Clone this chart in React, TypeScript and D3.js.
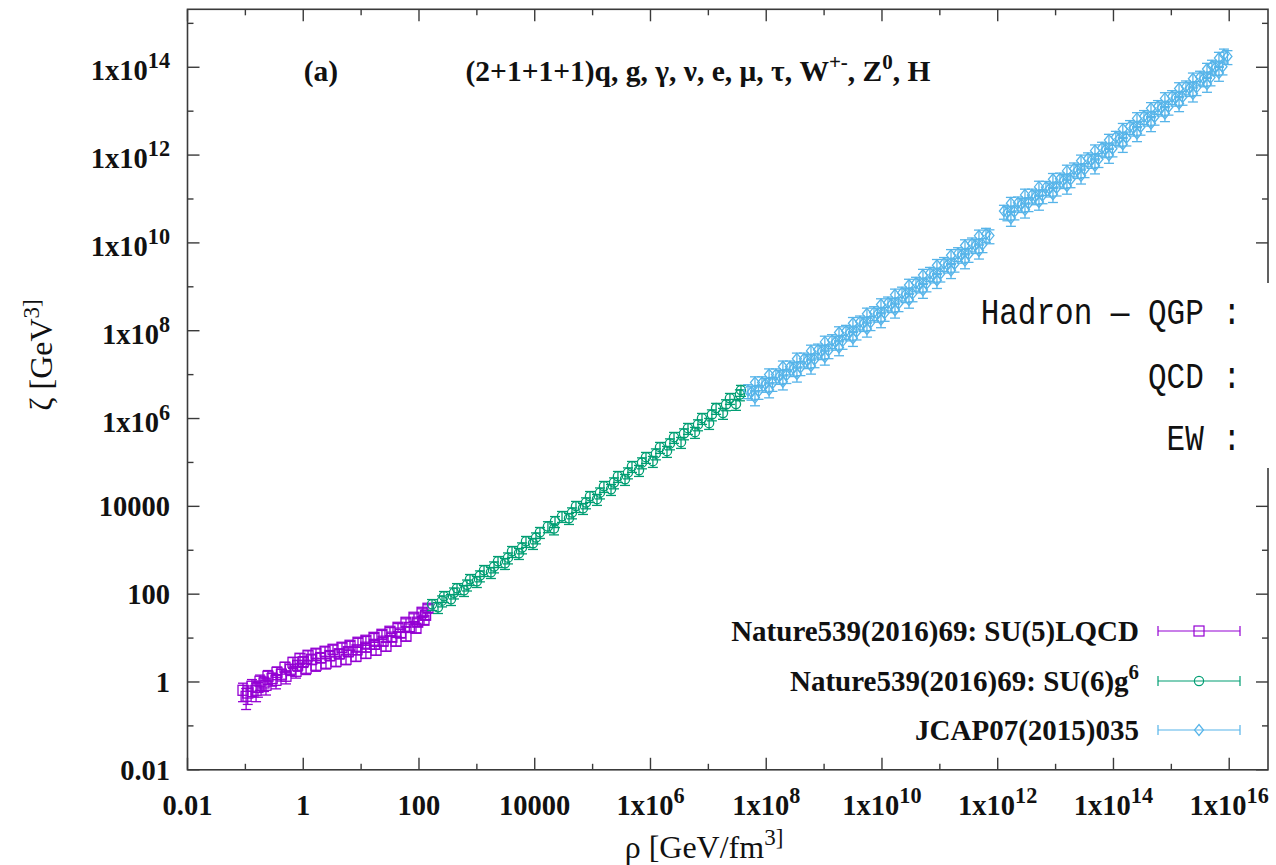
import React from "react";
import * as d3 from "d3";

// ---------------- data ----------------
// [rho (GeV/fm^3), zeta (GeV^3), relative error]
const su5LQCD: [number, number, number][] = [
  [0.091, 0.647, 0.45], [0.130, 0.80, 0.42], [0.179, 1.04, 0.38], [0.246, 1.35, 0.35],
  [0.352, 1.66, 0.32], [0.484, 2.16, 0.3], [0.665, 2.81, 0.28], [0.879, 3.47, 0.27],
  [1.21, 4.06, 0.26], [1.66, 4.51, 0.25], [2.38, 5.01, 0.25], [3.27, 5.56, 0.24],
  [4.67, 6.18, 0.24], [6.43, 6.86, 0.23], [8.83, 8.03, 0.23], [12.1, 8.92, 0.22],
  [16.7, 10.4, 0.22], [22.9, 12.2, 0.22], [31.5, 14.3, 0.21], [43.4, 17.6, 0.21],
  [59.6, 22.9, 0.2], [82.0, 29.8, 0.2], [113, 38.7, 0.2], [143, 47.8, 0.2],
  [0.103, 0.472, 0.5], [0.153, 0.647, 0.45], [0.227, 0.841, 0.4], [0.338, 1.09, 0.36],
  [0.503, 1.35, 0.33], [0.750, 1.75, 0.3], [1.12, 2.05, 0.28], [1.66, 2.40, 0.27],
  [2.47, 2.67, 0.26], [3.68, 2.96, 0.25], [5.48, 3.29, 0.25], [8.15, 3.85, 0.24],
  [12.1, 4.51, 0.24], [18.1, 5.28, 0.23], [26.9, 6.51, 0.23], [40.1, 8.46, 0.22],
  [59.6, 11.0, 0.22], [88.7, 16.7, 0.21], [122, 25.5, 0.2],
  [0.11, 0.56, 0.45], [0.165, 0.75, 0.4], [0.21, 0.95, 0.36], [0.29, 1.2, 0.33],
  [0.42, 1.5, 0.3], [0.6, 1.95, 0.28], [0.8, 2.4, 0.27], [1.0, 2.9, 0.26],
  [1.4, 3.3, 0.25], [2.0, 3.6, 0.25], [2.9, 4.0, 0.24], [4.2, 4.4, 0.24],
  [6.0, 4.9, 0.23], [8.5, 5.4, 0.23], [12, 6.2, 0.22], [17, 7.2, 0.22],
  [24, 8.5, 0.22], [34, 10.5, 0.21], [48, 13, 0.21], [68, 17.5, 0.2],
  [95, 23, 0.2], [130, 33, 0.2],
];

const su6g6: [number, number, number][] = [
  [168, 58.9, 0.28], [270, 89.7, 0.28], [454, 136, 0.28], [761, 219, 0.28],
  [1330, 351, 0.28], [2320, 562, 0.28], [4050, 951, 0.28], [7060, 1610, 0.28],
  [12300, 2580, 0.28], [29600, 5970, 0.28], [51600, 10100, 0.28], [90100, 17000, 0.28],
  [1.57e5, 28800, 0.28], [2.74e5, 48600, 0.28], [4.79e5, 82200, 0.28], [8.36e5, 1.32e5, 0.28],
  [1.46e6, 2.23e5, 0.28], [2.55e6, 3.77e5, 0.28], [4.45e6, 6.04e5, 0.28], [7.76e6, 1.02e6, 0.28],
  [1.36e7, 1.73e6, 0.28], [2.36e7, 2.91e6, 0.28], [3.66e7, 4.44e6, 0.28],
  [213, 50.4, 0.28], [357, 76.6, 0.28], [600, 123, 0.28], [1000, 197, 0.28],
  [1750, 316, 0.28], [3060, 507, 0.28], [5340, 857, 0.28], [9330, 1450, 0.28],
  [39100, 5370, 0.28], [68200, 9080, 0.28], [1.19e5, 14600, 0.28], [2.08e5, 24600, 0.28],
  [3.63e5, 41600, 0.28], [6.33e5, 66700, 0.28], [1.10e6, 1.07e5, 0.28], [1.93e6, 1.81e5, 0.28],
  [3.37e6, 2.90e5, 0.28], [5.87e6, 4.90e5, 0.28], [1.03e7, 7.85e5, 0.28], [1.79e7, 1.33e6, 0.28],
  [3.00e7, 2.13e6, 0.28],
  [250, 71.2, 0.28], [402, 108, 0.28], [676, 164, 0.28], [1130, 265, 0.28],
  [1980, 424, 0.28], [3450, 679, 0.28], [6030, 1150, 0.28], [10500, 1940, 0.28],
  [16900, 3490, 0.28], [22400, 4570, 0.28], [21500, 3110, 0.28],
  [44000, 7210, 0.28], [76800, 12200, 0.28], [1.34e5, 20500, 0.28], [2.34e5, 34800, 0.28],
  [4.08e5, 58700, 0.28], [7.13e5, 99300, 0.28], [1.24e6, 1.59e5, 0.28], [2.17e6, 2.69e5, 0.28],
  [3.79e6, 4.55e5, 0.28], [6.62e6, 7.30e5, 0.28], [1.15e7, 1.23e6, 0.28], [2.02e7, 2.09e6, 0.28],
  [3.51e7, 3.52e6, 0.28],
];

const jcap07: [number, number, number][] = [
  [4.84e7, 4.36e6, 0.35], [8.45e7, 6.61e6, 0.35], [1.47e8, 1.00e7, 0.35], [2.57e8, 1.51e7, 0.35],
  [4.49e8, 2.29e7, 0.35], [7.84e8, 3.67e7, 0.35], [1.37e9, 6.01e7, 0.35], [2.39e9, 9.80e7, 0.35],
  [4.17e9, 1.60e8, 0.35], [7.28e9, 2.61e8, 0.35], [1.27e10, 4.33e8, 0.35], [2.22e10, 7.27e8, 0.35],
  [3.87e10, 1.22e9, 0.35], [6.75e10, 2.05e9, 0.35], [1.18e11, 3.44e9, 0.35], [2.06e11, 5.75e9, 0.35],
  [3.59e11, 9.57e9, 0.35], [6.27e11, 1.59e10, 0.35], [1.28e12, 5.32e10, 0.35], [2.24e12, 8.22e10, 0.35],
  [3.91e12, 1.24e11, 0.35], [6.82e12, 1.86e11, 0.35], [1.19e13, 2.88e11, 0.35], [2.08e13, 4.89e11, 0.35],
  [3.63e13, 8.31e11, 0.35], [6.33e13, 1.45e12, 0.35], [1.10e14, 2.57e12, 0.35], [1.93e14, 4.52e12, 0.35],
  [3.37e14, 7.64e12, 0.35], [5.87e14, 1.29e13, 0.35], [1.03e15, 2.17e13, 0.35], [1.79e15, 3.61e13, 0.35],
  [3.13e15, 6.01e13, 0.35], [5.04e15, 1.07e14, 0.35], [8.11e15, 1.92e14, 0.35],
  [6.39e7, 3.00e6, 0.35], [1.12e8, 4.55e6, 0.35], [1.94e8, 6.89e6, 0.35], [3.39e8, 1.04e7, 0.35],
  [5.93e8, 1.58e7, 0.35], [1.03e9, 2.53e7, 0.35], [1.81e9, 4.14e7, 0.35], [3.15e9, 6.75e7, 0.35],
  [5.50e9, 1.10e8, 0.35], [9.61e9, 1.80e8, 0.35], [1.68e10, 2.98e8, 0.35], [2.93e10, 5.01e8, 0.35],
  [5.11e10, 8.41e8, 0.35], [8.91e10, 1.41e9, 0.35], [1.56e11, 2.37e9, 0.35], [2.72e11, 3.96e9, 0.35],
  [4.74e11, 6.59e9, 0.35], [1.69e12, 3.67e10, 0.35], [2.96e12, 5.66e10, 0.35], [5.16e12, 8.54e10, 0.35],
  [9.00e12, 1.28e11, 0.35], [1.57e13, 1.98e11, 0.35], [2.75e13, 3.37e11, 0.35], [4.79e13, 5.73e11, 0.35],
  [8.36e13, 9.99e11, 0.35], [1.45e14, 1.77e12, 0.35], [2.55e14, 3.11e12, 0.35], [4.45e14, 5.26e12, 0.35],
  [7.75e14, 8.89e12, 0.35], [1.36e15, 1.50e13, 0.35], [2.36e15, 2.49e13, 0.35], [4.13e15, 4.14e13, 0.35],
  [6.65e15, 7.37e13, 0.35],
  [5.56e7, 4.02e6, 0.35], [9.71e7, 6.09e6, 0.35], [1.69e8, 9.22e6, 0.35], [2.95e8, 1.39e7, 0.35],
  [5.16e8, 2.11e7, 0.35], [9.01e8, 3.38e7, 0.35], [1.57e9, 5.54e7, 0.35], [2.75e9, 9.04e7, 0.35],
  [4.79e9, 1.48e8, 0.35], [8.36e9, 2.41e8, 0.35], [1.46e10, 3.99e8, 0.35], [2.55e10, 6.70e8, 0.35],
  [4.45e10, 1.12e9, 0.35], [7.76e10, 1.89e9, 0.35], [1.36e11, 3.17e9, 0.35], [2.37e11, 5.30e9, 0.35],
  [4.12e11, 8.82e9, 0.35], [7.20e11, 1.47e10, 0.35], [1.47e12, 4.91e10, 0.35], [2.57e12, 7.58e10, 0.35],
  [4.49e12, 1.14e11, 0.35], [7.84e12, 1.71e11, 0.35], [1.37e13, 2.66e11, 0.35], [2.39e13, 4.51e11, 0.35],
  [4.17e13, 7.66e11, 0.35], [7.27e13, 1.34e12, 0.35], [1.26e14, 2.37e12, 0.35], [2.22e14, 4.17e12, 0.35],
  [3.87e14, 7.04e12, 0.35], [6.74e14, 1.19e13, 0.35], [1.18e15, 2.00e13, 0.35], [2.06e15, 3.33e13, 0.35],
  [3.60e15, 5.54e13, 0.35], [5.79e15, 9.87e13, 0.35], [9.32e15, 1.77e14, 0.35],
  [7.35e7, 4.21e6, 0.35], [1.28e8, 6.39e6, 0.35], [2.23e8, 9.66e6, 0.35], [3.90e8, 1.46e7, 0.35],
  [6.82e8, 2.21e7, 0.35], [1.19e9, 3.55e7, 0.35], [2.08e9, 5.81e7, 0.35], [3.63e9, 9.47e7, 0.35],
  [6.33e9, 1.55e8, 0.35], [1.11e10, 2.52e8, 0.35], [1.93e10, 4.18e8, 0.35], [3.37e10, 7.02e8, 0.35],
  [5.87e10, 1.18e9, 0.35], [1.02e11, 1.98e9, 0.35], [1.79e11, 3.32e9, 0.35], [3.13e11, 5.55e9, 0.35],
  [5.45e11, 9.24e9, 0.35], [1.94e12, 5.14e10, 0.35], [3.40e12, 7.94e10, 0.35], [5.94e12, 1.20e11, 0.35],
  [1.04e13, 1.80e11, 0.35], [1.81e13, 2.78e11, 0.35], [3.16e13, 4.72e11, 0.35], [5.51e13, 8.03e11, 0.35],
  [9.61e13, 1.40e12, 0.35], [1.67e14, 2.48e12, 0.35], [2.93e14, 4.37e12, 0.35], [5.12e14, 7.38e12, 0.35],
  [8.91e14, 1.25e13, 0.35], [1.56e15, 2.10e13, 0.35], [2.72e15, 3.49e13, 0.35], [4.75e15, 5.81e13, 0.35],
  [7.65e15, 1.03e14, 0.35],
  [6.39e7, 6.60e6, 0.35], [1.12e8, 1.00e7, 0.35], [1.94e8, 1.51e7, 0.35], [3.39e8, 2.29e7, 0.35],
  [5.93e8, 3.47e7, 0.35], [1.03e9, 5.56e7, 0.35], [1.81e9, 9.10e7, 0.35], [3.15e9, 1.48e8, 0.35],
  [5.50e9, 2.42e8, 0.35], [9.61e9, 3.95e8, 0.35], [1.68e10, 6.56e8, 0.35], [2.93e10, 1.10e9, 0.35],
  [5.11e10, 1.85e9, 0.35], [8.91e10, 3.10e9, 0.35], [1.56e11, 5.21e9, 0.35], [2.72e11, 8.71e9, 0.35],
  [4.74e11, 1.45e10, 0.35], [1.69e12, 8.05e10, 0.35], [2.96e12, 1.24e11, 0.35], [5.16e12, 1.88e11, 0.35],
  [9.00e12, 2.82e11, 0.35], [1.57e13, 4.36e11, 0.35], [2.75e13, 7.40e11, 0.35], [4.79e13, 1.26e12, 0.35],
  [8.36e13, 2.20e12, 0.35], [1.45e14, 3.89e12, 0.35], [2.55e14, 6.84e12, 0.35], [4.45e14, 1.16e13, 0.35],
  [7.75e14, 1.95e13, 0.35], [1.36e15, 3.29e13, 0.35], [2.36e15, 5.47e13, 0.35], [4.13e15, 9.10e13, 0.35],
  [6.65e15, 1.62e14, 0.35],
];

const seriesNames = [
  "Nature539(2016)69: SU(5)LQCD",
  "Nature539(2016)69: SU(6)g^6",
  "JCAP07(2015)035",
];
const seriesColors = ["#9400d3", "#009e73", "#56b4e9"];
const seriesMarkers = ["square", "circle", "diamond"];

const xMajorTicks = [1e-2, 1, 1e2, 1e4, 1e6, 1e8, 1e10, 1e12, 1e14, 1e16];
const xTickLabels = ["0.01", "1", "100", "10000", "1x10^6", "1x10^8", "1x10^10", "1x10^12", "1x10^14", "1x10^16"];
const xMinorTicks = [1e-1, 1e1, 1e3, 1e5, 1e7, 1e9, 1e11, 1e13, 1e15];
const yMajorTicks = [1e-2, 1, 1e2, 1e4, 1e6, 1e8, 1e10, 1e12, 1e14];
const yTickLabels = ["0.01", "1", "100", "10000", "1x10^6", "1x10^8", "1x10^10", "1x10^12", "1x10^14"];
const yMinorTicks = [1e-1, 1e1, 1e3, 1e5, 1e7, 1e9, 1e11, 1e13, 1e15];

const xDomain: [number, number] = [1e-2, 4.68e16];
const yDomain: [number, number] = [1e-2, 2.09e15];

const phaseLabels = ["Hadron \u2014 QGP :", "QCD :", "EW :"];

// ---------------- layout ----------------
const W = 1276;
const H = 865;
const PL = 187.5, PR = 1268, PT = 9.3, PB = 769.8;
const SERIF = "'Liberation Serif', 'Times New Roman', serif";
const MONO = "'Liberation Mono', 'DejaVu Sans Mono', monospace";
const AXIS = "#3a3a3a";
const DATA_SW = 1.3;

function SupText({ text, x, y, size, anchor = "middle", weight = 700, family = SERIF, transform, supScale = 0.78 }: any) {
  const parts = text.split("^");
  const sup = size * 0.42;
  return (
    <text x={x} y={y} fontSize={size} fontFamily={family} fontWeight={weight} textAnchor={anchor} fill="#111" transform={transform}>
      <tspan>{parts[0]}</tspan>
      {parts.length > 1 && (
        <tspan dy={-sup} fontSize={size * supScale}>{parts[1]}</tspan>
      )}
    </text>
  );
}

function Marker({ type, cx, cy, color, sw = DATA_SW }: any) {
  if (type === "square") return <rect x={cx - 5} y={cy - 5} width={10} height={10} fill="none" stroke={color} strokeWidth={sw} />;
  if (type === "circle") return <circle cx={cx} cy={cy} r={4.6} fill="none" stroke={color} strokeWidth={sw} />;
  return <path d={`M${cx},${cy - 5.5}L${cx + 4.5},${cy}L${cx},${cy + 5.5}L${cx - 4.5},${cy}Z`} fill="none" stroke={color} strokeWidth={sw} />;
}

export default function App() {
  const x = d3.scaleLog().domain(xDomain).range([PL, PR]);
  const y = d3.scaleLog().domain(yDomain).range([PB, PT]);
  const allSeries = [su5LQCD, su6g6, jcap07];
  const cap = 5;

  const legendRows = [631, 681, 730];
  const TICK = 28.5;

  return (
    <svg width={W} height={H} style={{ position: "absolute", left: 0, top: 0, background: "#fff" }}>
      <rect x={0} y={0} width={W} height={H} fill="#fff" />

      {/* data */}
      {allSeries.map((s, si) => (
        <g key={si}>
          {s.map(([r, z, e], i) => {
            const cx = x(r);
            const cy = y(z);
            const yHi = y(z * (1 + e));
            const yLo = y(z * (1 - e));
            const c = seriesColors[si];
            return (
              <g key={i}>
                <line x1={cx} x2={cx} y1={yHi} y2={yLo} stroke={c} strokeWidth={DATA_SW} />
                <line x1={cx - cap} x2={cx + cap} y1={yHi} y2={yHi} stroke={c} strokeWidth={DATA_SW} />
                <line x1={cx - cap} x2={cx + cap} y1={yLo} y2={yLo} stroke={c} strokeWidth={DATA_SW} />
                <Marker type={seriesMarkers[si]} cx={cx} cy={cy} color={c} />
              </g>
            );
          })}
        </g>
      ))}

      {/* frame */}
      <rect x={PL} y={PT} width={PR - PL} height={PB - PT} fill="none" stroke={AXIS} strokeWidth={1.6} />
      {xMajorTicks.map((t, i) => (
        <g key={"xM" + i}>
          <line x1={x(t)} x2={x(t)} y1={PB} y2={PB - 12} stroke={AXIS} strokeWidth={1.4} />
          <line x1={x(t)} x2={x(t)} y1={PT} y2={PT + 12} stroke={AXIS} strokeWidth={1.4} />
          <SupText text={xTickLabels[i]} x={x(t)} y={815} size={TICK} />
        </g>
      ))}
      {xMinorTicks.map((t, i) => (
        <g key={"xm" + i}>
          <line x1={x(t)} x2={x(t)} y1={PB} y2={PB - 6} stroke={AXIS} strokeWidth={1.4} />
          <line x1={x(t)} x2={x(t)} y1={PT} y2={PT + 6} stroke={AXIS} strokeWidth={1.4} />
        </g>
      ))}
      {yMajorTicks.map((t, i) => (
        <g key={"yM" + i}>
          <line x1={PL} x2={PL + 12} y1={y(t)} y2={y(t)} stroke={AXIS} strokeWidth={1.4} />
          <line x1={PR} x2={PR - 12} y1={y(t)} y2={y(t)} stroke={AXIS} strokeWidth={1.4} />
          <SupText text={yTickLabels[i]} x={170} y={y(t) + (yTickLabels[i].includes("^") ? 13 : 10)} size={TICK} anchor="end" />
        </g>
      ))}
      {yMinorTicks.map((t, i) => (
        <g key={"ym" + i}>
          <line x1={PL} x2={PL + 6} y1={y(t)} y2={y(t)} stroke={AXIS} strokeWidth={1.4} />
          <line x1={PR} x2={PR - 6} y1={y(t)} y2={y(t)} stroke={AXIS} strokeWidth={1.4} />
        </g>
      ))}

      {/* axis titles */}
      <SupText text={"\u03c1 [GeV/fm^3]"} x={704} y={858} size={32} weight={400} supScale={0.72} />
      <SupText text={"\u03b6 [GeV^3]"} x={0} y={0} size={32} weight={400} supScale={0.72} transform="translate(52,355) rotate(-90)" />

      {/* in-plot labels */}
      <text x={321} y={81} fontSize={29.5} fontFamily={SERIF} fontWeight={700} textAnchor="middle" fill="#111">(a)</text>
      <text x={698} y={81} fontSize={29.5} fontFamily={SERIF} fontWeight={700} textAnchor="middle" fill="#111">
        <tspan>(2+1+1+1)q, g, γ, ν, e, μ, τ, W</tspan>
        <tspan dy={-12} fontSize={21}>+-</tspan>
        <tspan dy={12}>, Z</tspan>
        <tspan dy={-12} fontSize={21}>0</tspan>
        <tspan dy={12}>, H</tspan>
      </text>

      {/* legend */}
      {seriesNames.map((n, i) => {
        const ly = legendRows[i];
        const c = seriesColors[i];
        return (
          <g key={"lg" + i}>
            <SupText text={n} x={1139} y={ly + 10} size={29} anchor="end" supScale={0.72} />
            <line x1={1158} x2={1240} y1={ly} y2={ly} stroke={c} strokeWidth={1.2} />
            <line x1={1158} x2={1158} y1={ly - 5} y2={ly + 5} stroke={c} strokeWidth={1.2} />
            <line x1={1240} x2={1240} y1={ly - 5} y2={ly + 5} stroke={c} strokeWidth={1.2} />
            <Marker type={seriesMarkers[i]} cx={1199} cy={ly} color={c} sw={1.2} />
          </g>
        );
      })}

      {/* overlay box with phase labels */}
      <rect x={965} y={283} width={W - 965} height={185} fill="#fff" />
      {phaseLabels.map((t, i) => (
        <text key={"ph" + i} x={0} y={0} fontSize={31} fontFamily={MONO} textAnchor="end" fill="#111"
          transform={`translate(1241,${[324, 388, 450][i]}) scale(1,1.18)`}>{t}</text>
      ))}
    </svg>
  );
}
